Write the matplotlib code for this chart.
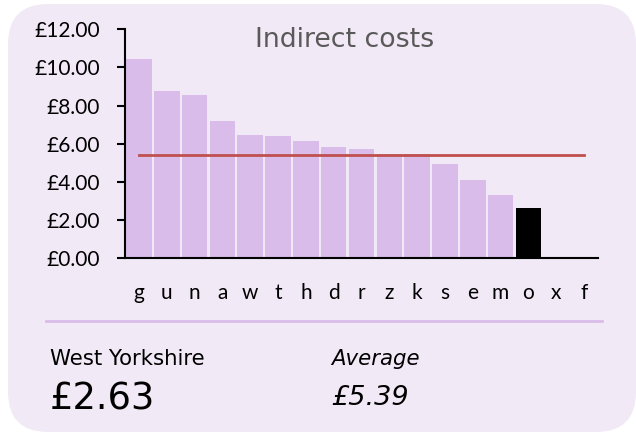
#!/usr/bin/env python3
"""
Indirect costs card: sorted bar chart with the average line and a summary below.
"""

import matplotlib
matplotlib.use('Agg')
import matplotlib.pyplot as plt
from matplotlib.patches import FancyBboxPatch

# data
categories = ['g', 'u', 'n', 'a', 'w', 't', 'h', 'd', 'r', 'z', 'k', 's', 'e', 'm', 'o', 'x', 'f']
costs = [10.44, 8.75, 8.56, 7.19, 6.46, 6.41, 6.15, 5.83, 5.74, 5.48, 5.45, 4.92, 4.09, 3.32, 2.63, 0.07, 0.0]
highlight = 'o'
area_name = 'West Yorkshire'
area_value = 2.63
average = 5.39
y_ticks = [0, 2, 4, 6, 8, 10, 12]

W, H = 636, 433
card_color = '#f2e9f7'
bar_color = '#d9bce9'
line_color = '#c0504d'

fig = plt.figure(figsize=(W / 100, H / 100), dpi=100)
fig.patch.set_facecolor('white')

# background card, drawn in pixel coordinates
bg = fig.add_axes([0, 0, 1, 1])
bg.set_xlim(0, W)
bg.set_ylim(H, 0)
bg.axis('off')
card = FancyBboxPatch((8, 4), W - 8, H - 5, boxstyle='round,pad=0,rounding_size=40',
                      facecolor=card_color, edgecolor='none')
bg.add_patch(card)
bg.plot([46, 602], [321, 321], color=bar_color, linewidth=2)

bg.text(344.5, 47, 'Indirect costs', fontsize=19.3, color='#595959',
        ha='center', va='baseline', family='DejaVu Sans')
bg.text(50, 365, area_name, fontsize=15.3, color='black', va='baseline', family='DejaVu Sans')
bg.text(50, 410, f'£{area_value:.2f}', fontsize=26.5, color='black', va='baseline',
        family='DejaVu Sans')
bg.text(331, 365, 'Average', fontsize=15.3, color='black', va='baseline',
        style='italic', family='DejaVu Sans')
bg.text(331, 405, f'£{average:.2f}', fontsize=19.5, color='black', va='baseline',
        style='italic', family='DejaVu Sans')

# main chart
left, right, bottom, top = 125, 598, 258.3, 29.3
ax = fig.add_axes([left / W, 1 - bottom / H, (right - left) / W, (bottom - top) / H])
ax.set_facecolor('none')

x = list(range(len(categories)))
colors = ['black' if c == highlight else bar_color for c in categories]
ax.bar(x, costs, width=0.92, color=colors, zorder=2)
ax.plot([x[0], x[-1]], [average, average], color=line_color, linewidth=2, zorder=3)

ax.set_xlim(-0.5, len(categories) - 0.5)
ax.set_ylim(0, 12)
ax.set_yticks(y_ticks)
ax.set_yticklabels([f'£{v:.2f}' for v in y_ticks])
ax.set_xticks(x)
ax.set_xticklabels(categories)

for side in ['top', 'right']:
    ax.spines[side].set_visible(False)
for side in ['left', 'bottom']:
    ax.spines[side].set_linewidth(1.5)
    ax.spines[side].set_color('black')

ax.tick_params(axis='y', length=6, width=1.5, pad=12, labelsize=15)
ax.tick_params(axis='x', length=0, pad=18, labelsize=15)
for lbl in ax.get_xticklabels() + ax.get_yticklabels():
    lbl.set_family('Lato')

fig.savefig('out.png', dpi=100, facecolor='white')
